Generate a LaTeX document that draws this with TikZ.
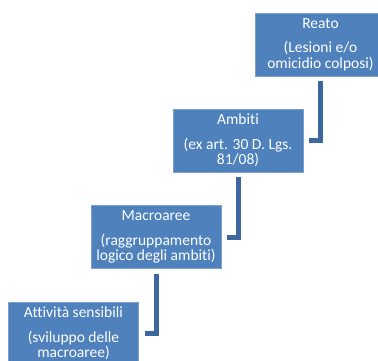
\documentclass[tikz,border=0pt]{standalone}
\usepackage{fontspec}
\setmainfont{Carlito}[Ligatures=NoCommon]
\definecolor{boxblue}{HTML}{4F81BD}
\definecolor{linkblue}{HTML}{3C679F}
\tikzset{
  stepbox/.style={rectangle, fill=boxblue, draw=boxblue!75!white, line width=0.5pt,
    minimum width=130pt, minimum height=63pt, inner sep=0pt, text=white, align=center,
    font=\fontsize{15.5}{15.5}\selectfont},
  link/.style={draw=linkblue, line width=5pt, line join=miter, line cap=butt}
}
\begin{document}
\begin{tikzpicture}[x=1pt,y=-1pt]
\path[use as bounding box, clip] (0,0) rectangle (378,360);
\node[stepbox] (b1) at (320.5,44.5) {Reato\\[9pt](Lesioni e/o\\omicidio colposi)};
\node[stepbox] (b2) at (238,140.5) {Ambiti\\[9pt](ex art. 30 D. Lgs.\\81/08)};
\node[stepbox] (b3) at (156,237) {Macroaree\\[9pt](raggruppamento\\logico degli ambiti)};
\node[stepbox] (b4) at (73.5,333.5) {Attività sensibili\\[9pt](sviluppo delle\\macroaree)};
\draw[link] ([yshift=-5pt]b1.south) |- ([xshift=6pt]b2.east);
\draw[link] ([yshift=-5pt]b2.south) |- ([xshift=6pt]b3.east);
\draw[link] ([yshift=-5pt]b3.south) |- ([xshift=6pt]b4.east);
\end{tikzpicture}
\end{document}
